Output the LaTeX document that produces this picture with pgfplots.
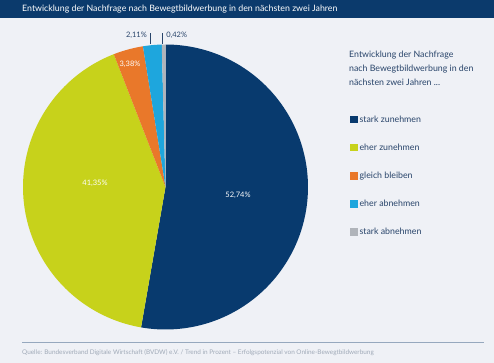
\documentclass[border=0pt]{standalone}
\usepackage{pgfplots}
\pgfplotsset{compat=1.18}
\usepackage{fontspec}
\setmainfont{Lato}
\definecolor{bgc}{RGB}{239,241,246}
\definecolor{titlec}{RGB}{11,58,108}
\definecolor{cA}{RGB}{8,58,110}
\definecolor{cB}{RGB}{199,210,27}
\definecolor{cC}{RGB}{233,120,42}
\definecolor{cD}{RGB}{30,166,221}
\definecolor{cE}{RGB}{176,180,186}
\definecolor{txtc}{RGB}{40,68,106}
\definecolor{srcc}{RGB}{160,170,184}
\definecolor{linec}{RGB}{150,168,190}
\begin{document}
\begin{tikzpicture}
\fill[bgc] (0pt,0pt) rectangle (494pt,-363pt);
\fill[titlec] (0pt,0pt) rectangle (494pt,-18pt);
\node[anchor=west, text=white, inner sep=0pt, font=\fontsize{8.8}{10}\selectfont] at (22pt,-9.5pt) {Entwicklung der Nachfrage nach Bewegtbildwerbung in den nächsten zwei Jahren};
\draw[linec, line width=0.8pt] (22pt,-342pt) -- (484pt,-342pt);
\node[anchor=west, text=srcc, inner sep=0pt, font=\fontsize{6.4}{7}\selectfont] at (22pt,-352.5pt) {Quelle: Bundesverband Digitale Wirtschaft (BVDW) e.V. / Trend in Prozent -- Erfolgspotenzial von Online-Bewegtbildwerbung};
\node[anchor=north west, align=left, text=txtc, inner sep=0pt, font=\fontsize{8.8}{14}\selectfont] at (349pt,-51pt) {Entwicklung der Nachfrage\\nach Bewegtbildwerbung in den\\nächsten zwei Jahren ...};
\def\vA{52.74}\def\vB{41.35}\def\vC{3.38}\def\vD{2.11}\def\vE{0.42}
\pgfmathsetmacro\aA{90}
\pgfmathsetmacro\aB{\aA-3.6*\vA}
\pgfmathsetmacro\aC{\aB-3.6*\vB}
\pgfmathsetmacro\aD{\aC-3.6*\vC}
\pgfmathsetmacro\aE{\aD-3.6*\vD}
\pgfmathsetmacro\aF{\aE-3.6*\vE}
\begin{axis}[at={(165.5pt,-187pt)}, anchor=center, scale only axis,
  width=285pt, height=285pt, xmin=-1, xmax=1, ymin=-1, ymax=1,
  hide axis, clip=false,
  legend style={at={(1.147,0.758)}, anchor=north west, draw=none, fill=none,
    font=\fontsize{8.8}{10}\selectfont, text=txtc, row sep=16.2pt, inner sep=0pt},
  legend cell align=left,
  legend image code/.code={\fill[#1] (0pt,-3.5pt) rectangle (7.5pt,4pt);},
  every axis plot/.append style={draw=none}]
\addplot[fill=cA, domain=\aB:\aA, samples=120, variable=\t] ({cos(t)},{sin(t)}) -- (axis cs:0,0) -- cycle;
\addlegendentry{stark zunehmen}
\addplot[fill=cB, domain=\aC:\aB, samples=100, variable=\t] ({cos(t)},{sin(t)}) -- (axis cs:0,0) -- cycle;
\addlegendentry{eher zunehmen}
\addplot[fill=cC, domain=\aD:\aC, samples=20, variable=\t] ({cos(t)},{sin(t)}) -- (axis cs:0,0) -- cycle;
\addlegendentry{gleich bleiben}
\addplot[fill=cD, domain=\aE:\aD, samples=15, variable=\t] ({cos(t)},{sin(t)}) -- (axis cs:0,0) -- cycle;
\addlegendentry{eher abnehmen}
\addplot[fill=cE, domain=\aF:\aE, samples=5, variable=\t] ({cos(t)},{sin(t)}) -- (axis cs:0,0) -- cycle;
\addlegendentry{stark abnehmen}
\node[text=white, font=\fontsize{7.5}{9}\selectfont] at (axis cs:0.509,-0.056) {52,74\%};
\node[text=white, font=\fontsize{7.5}{9}\selectfont] at (axis cs:-0.495,0.028) {41,35\%};
\node[text=white, font=\fontsize{7.5}{9}\selectfont] at (axis cs:-0.249,0.863) {3,38\%};
\node[text=txtc, anchor=east, inner sep=0pt, font=\fontsize{7.5}{9}\selectfont] at (axis cs:-0.130,1.067) {2,11\%};
\node[text=txtc, anchor=west, inner sep=0pt, font=\fontsize{7.5}{9}\selectfont] at (axis cs:0.004,1.067) {0,42\%};
\draw[txtc, line width=0.6pt] (axis cs:-0.104,1.004) -- (axis cs:-0.104,1.081);
\draw[txtc, line width=0.6pt] (axis cs:-0.0196,1.004) -- (axis cs:-0.0196,1.081);
\end{axis}
\end{tikzpicture}
\end{document}
